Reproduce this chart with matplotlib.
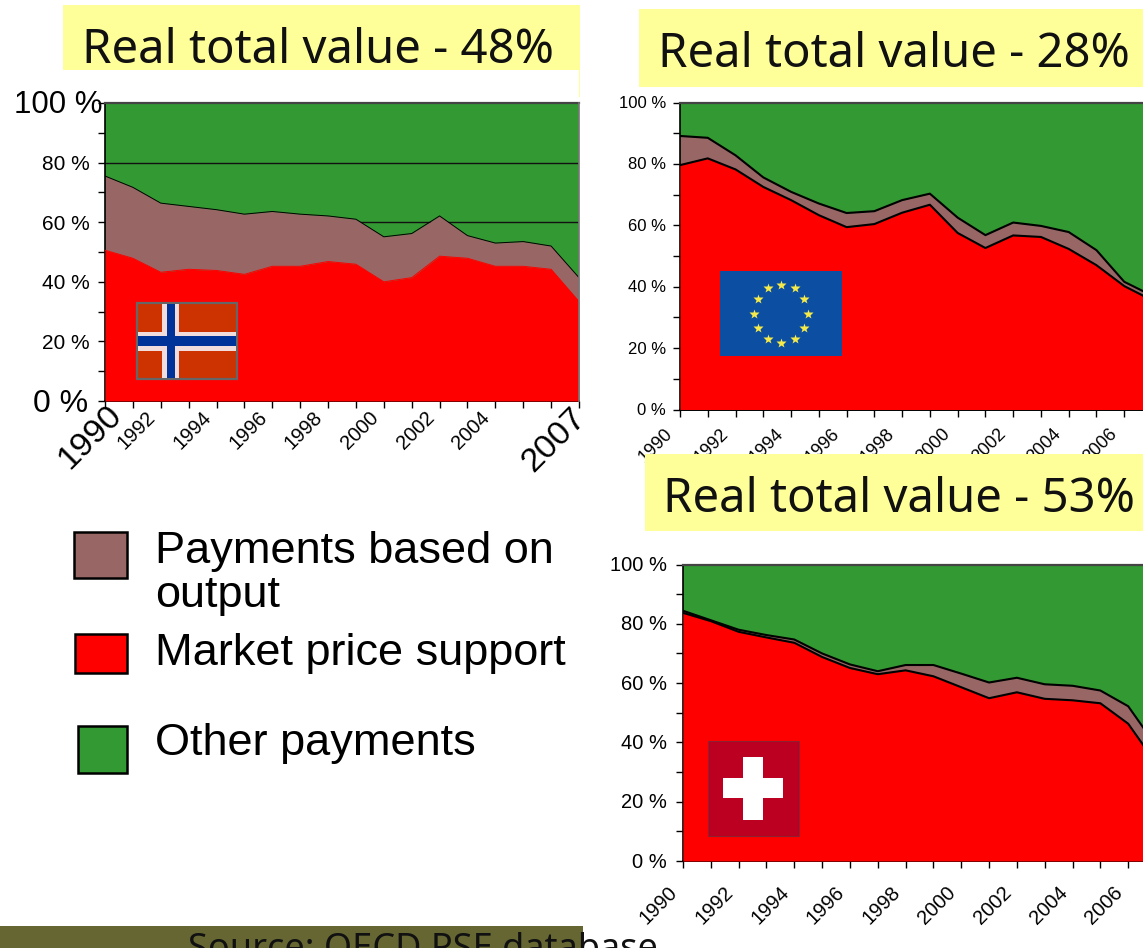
import numpy as np
import matplotlib
matplotlib.use("Agg")
import matplotlib.pyplot as plt
from matplotlib.patches import Rectangle

W, H = 1143, 948

years = list(range(1990, 2008))

norway_mps = [50.6, 47.9, 43.2, 44.2, 43.8, 42.5, 45.2, 45.2, 46.8, 45.9, 40.0, 41.4, 48.6, 47.9, 45.2, 45.2, 44.2, 33.4]
norway_top = [75.5, 71.7, 66.4, 65.3, 64.2, 62.7, 63.6, 62.7, 62.1, 61.0, 55.1, 56.2, 62.1, 55.5, 53.0, 53.5, 52.0, 41.4]

eu_mps = [79.6, 81.8, 78.2, 72.5, 68.2, 63.3, 59.4, 60.4, 64.1, 66.7, 57.5, 52.6, 56.7, 56.2, 52.3, 47.0, 40.2, 35.6]
eu_top = [89.1, 88.5, 82.8, 75.6, 70.9, 67.1, 64.0, 64.6, 68.2, 70.3, 62.5, 56.8, 60.9, 59.8, 57.8, 51.9, 41.6, 37.1]

swiss_mps = [83.7, 80.9, 77.3, 75.4, 73.6, 68.8, 65.1, 63.0, 64.3, 62.3, 58.6, 54.9, 56.9, 54.7, 54.2, 53.2, 46.3, 33.0]
swiss_top = [84.4, 81.2, 78.0, 76.2, 74.7, 70.0, 66.3, 64.0, 66.1, 66.1, 63.2, 60.2, 61.8, 59.6, 59.1, 57.5, 52.2, 38.9]

y_ticks = [0, 20, 40, 60, 80, 100]
y_minor = [10, 30, 50, 70, 90]
year_labels = [1990, 1992, 1994, 1996, 1998, 2000, 2002, 2004, 2006]
norway_labels = [1992, 1994, 1996, 1998, 2000, 2002, 2004]

titles = ["Real total value - 48%", "Real total value - 28%", "Real total value - 53%"]
legend_lines = ["Payments based on", "output", "Market price support", "Other payments"]
source_text = "Source: OECD PSE database"

GREEN, BROWN, RED = "#339933", "#996666", "#ff0000"
YELLOW = "#ffff99"
SANS = "Liberation Sans"
TITLE_FONT = "Noto Sans"

fig = plt.figure(figsize=(W / 100, H / 100), dpi=100, facecolor="white")


def px_axes(left, top, right, bottom, **kw):
    return fig.add_axes([left / W, 1 - bottom / H, (right - left) / W, (bottom - top) / H], **kw)


overlay = px_axes(0, 0, W, H)
overlay.set_xlim(0, W)
overlay.set_ylim(H, 0)
overlay.axis("off")
overlay.set_zorder(10)
overlay.patch.set_alpha(0)


def rect(x0, y0, x1, y1, fc, ec="none", lw=0, z=1):
    overlay.add_patch(Rectangle((x0, y0), x1 - x0, y1 - y0, fc=fc, ec=ec, lw=lw, zorder=z))


def area_chart(left, top, right, bottom, mps, total, xmax, outline, grid=False):
    ax = px_axes(left, top, right, bottom)
    ax.set_xlim(1990, xmax)
    ax.set_ylim(0, 100)
    ax.fill_between(years, 0, 100, color=GREEN, lw=0, zorder=1)
    if grid:
        for g in (60, 80):
            ax.plot([1990, xmax], [g, g], color="#111111", lw=1, zorder=1.5)
    ax.fill_between(years, mps, total, color=BROWN, lw=0, zorder=2)
    ax.fill_between(years, 0, mps, color=RED, lw=0, zorder=3)
    ax.plot(years, total, color="black", lw=outline, zorder=4)
    ax.plot(years, mps, color="black" if outline > 1 else RED, lw=outline, zorder=4)
    for s in ("top", "right"):
        ax.spines[s].set_visible(False)
    ax.spines["left"].set_linewidth(1.2)
    ax.spines["bottom"].set_linewidth(1.4)
    ax.plot([1990, xmax], [100, 100], color="#444444", lw=1.6, clip_on=False, zorder=5)
    ax.set_yticks(y_ticks)
    ax.set_yticks(y_minor, minor=True)
    ax.set_xticks(years)
    ax.set_xticklabels([])
    ax.set_yticklabels([])
    ax.tick_params(axis="both", which="both", length=5, width=1, color="black", direction="out")
    return ax


def year_label(ax, year, dx, dy, size):
    ax.annotate(str(year), (year, 0), xytext=(dx, dy), textcoords="offset pixels", rotation=45,
                rotation_mode="anchor", ha="right", va="top", fontsize=size, family=SANS,
                annotation_clip=False)


def pct_label(ax, v, dx, dy, size):
    ax.annotate(f"{v} %", (1990, v), xytext=(dx, dy), textcoords="offset pixels", ha="right",
                va="center", fontsize=size, family=SANS, annotation_clip=False)


# ---- Norway
n_ax = area_chart(105, 103, 579, 401, norway_mps, norway_top, 2007, 0.7, grid=True)
n_ax.plot([2007, 2007], [0, 100], color="#777777", lw=1.2, clip_on=False, zorder=5)
for v in y_ticks:
    if v == 100:
        pct_label(n_ax, v, -3, -2, 22.5)
    elif v == 0:
        pct_label(n_ax, v, -17, -3, 23)
    else:
        pct_label(n_ax, v, -15, -2, 15)
for y in norway_labels:
    year_label(n_ax, y, -15, -7, 14.5)
year_label(n_ax, 1990, 1, 2, 24.5)
year_label(n_ax, 2007, -9, -1, 24.5)

# ---- EU (the 2007 edge falls past the right side of the picture)
e_ax = area_chart(680, 102.5, 1152, 409.5, eu_mps, eu_top, 2007, 1.5)
for v in y_ticks:
    pct_label(e_ax, v, -14, -1, 12)
for y in year_labels:
    year_label(e_ax, y, -16, -16, 13)

# ---- Switzerland
s_ax = area_chart(683, 564.5, 1156, 861, swiss_mps, swiss_top, 2007, 1.5)
for v in y_ticks:
    pct_label(s_ax, v, -16, -1, 14.5)
for y in year_labels:
    year_label(s_ax, y, -15, -22, 14.5)

# ---- Title boxes
boxes = [(63, 5, 580, 70, 318, 50), (639, 9, 1143, 87, 894, 54), (645, 454, 1143, 531, 899, 499)]
for (x0, y0, x1, y1, tx, ty), t in zip(boxes, titles):
    rect(x0, y0, x1, y1, YELLOW, z=2)
    overlay.text(tx, ty, t, ha="center", va="center", fontsize=34, family=TITLE_FONT,
                 color="#111111", zorder=3)
rect(578.5, 70, 580, 97, YELLOW, z=2)

# ---- Flags
# Norway
rect(137, 303, 237, 379, "#cc3300", ec="#666666", lw=1.6, z=2)
rect(162, 304, 179, 378, "#f2dcdc", z=3)
rect(138, 332, 236, 351, "#f2dcdc", z=3)
rect(167, 304, 175, 378, "#003399", z=4)
rect(138, 336, 236, 346, "#003399", z=4)
# EU
rect(720, 271, 842, 356, "#0b4ea2", z=2)
angles = np.deg2rad(np.arange(0, 360, 30))
overlay.plot(781 + 27 * np.cos(angles), 313.5 + 29 * np.sin(angles), ls="none", marker="*",
             ms=7, color="#f5ea4a", mec="none", zorder=3)
# Switzerland
rect(708, 741, 799, 836, "#bb0022", ec="#8f2030", lw=0.8, z=2)
rect(743, 757, 763, 820, "white", z=3)
rect(723, 778, 783, 798, "white", z=3)

# ---- Legend
leg = [(74, 532, 127, 578, BROWN), (75, 634, 127, 673, RED), (78, 726, 127, 773, GREEN)]
for x0, y0, x1, y1, c in leg:
    rect(x0, y0, x1, y1, c, ec="black", lw=1.8, z=2)
txt_kw = dict(family=SANS, fontsize=32.5, color="black", va="center", ha="left", zorder=3)
overlay.text(155, 551, legend_lines[0], **txt_kw)
overlay.text(155, 595, legend_lines[1], **txt_kw)
overlay.text(155, 653, legend_lines[2], **txt_kw)
overlay.text(155, 743, legend_lines[3], **txt_kw)

# ---- Source bar
rect(0, 926, 583, 948, "#666633", z=2)
overlay.text(188, 950, source_text, family=TITLE_FONT, fontsize=26, color="#111111", va="center",
             ha="left", zorder=3, clip_on=True)

fig.savefig("out.png", dpi=100, facecolor="white")
